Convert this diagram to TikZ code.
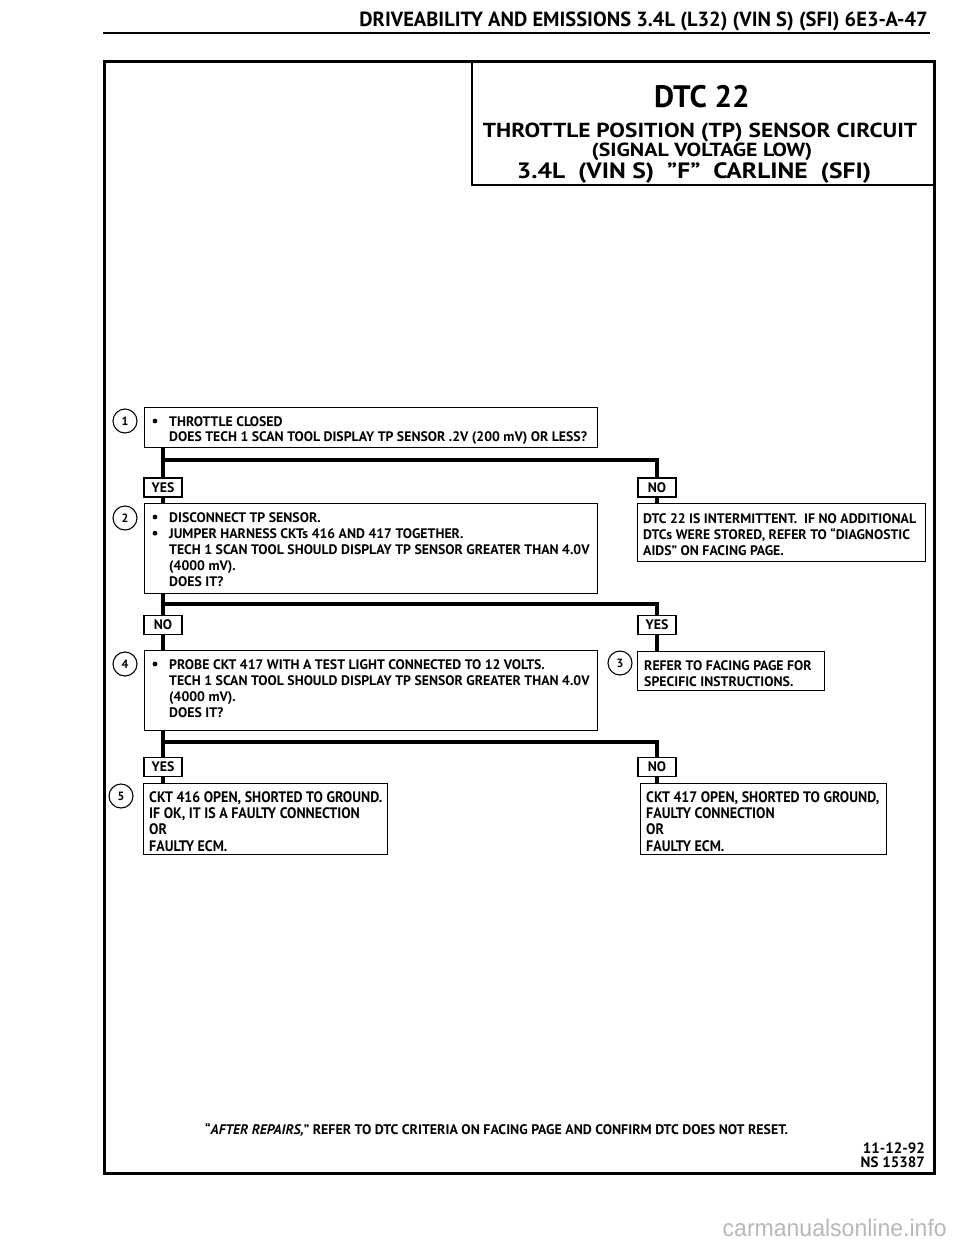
\documentclass[tikz,border=0pt]{standalone}
\usepackage{fontspec}
\setmainfont{PT Sans}
\newfontfamily\condf[FakeStretch=0.92]{PT Sans}
\newfontfamily\widef[FakeStretch=1.15]{PT Sans}
\newfontfamily\wmf[FakeStretch=0.96]{Liberation Sans}
\newcommand\fs{\rule{0pt}{10pt}}
\newcommand\bodytext{\fontsize{13.8}{16.2}\selectfont\bfseries}
\newcommand\condtext{\condf\fontsize{15.2}{16.3}\selectfont\bfseries}
\begin{document}
\begin{tikzpicture}[x=1pt,y=-1pt,
  box/.style={draw, line width=1.3pt, inner sep=0pt, anchor=north west},
  txt/.style={inner sep=0pt, anchor=north west, align=left, font=\bodytext},
  ctxt/.style={inner sep=0pt, anchor=north west, align=left, font=\condtext},
  lbl/.style={draw, line width=1.3pt, inner sep=0pt, minimum width=38pt, minimum height=19pt, font=\bodytext},
  circ/.style={draw, circle, line width=1.1pt, inner sep=0pt, minimum size=24pt, font=\fontsize{12}{12}\selectfont\bfseries},
  conn/.style={line width=4pt},
  bul/.style={fill=black}]
\useasboundingbox (0,0) rectangle (960,1250);
% header
\node[anchor=base east, inner sep=0pt, font=\fontsize{20.5}{20.5}\selectfont\bfseries] (hdr) at (928,27) {DRIVEABILITY AND EMISSIONS 3.4L (L32) (VIN S) (SFI) 6E3-A-47};
\draw[line width=2pt] (103,33) -- (930,33);
% frame
\node[draw, line width=2.5pt, inner sep=0pt, minimum width=830pt, minimum height=1112pt, anchor=north west] (frame) at (103,60) {};
% title
\node[draw, line width=1.5pt, inner sep=0pt, minimum width=462pt, minimum height=124pt, anchor=north west] (tb) at (471,60) {};
\node[anchor=base, inner sep=0pt, font=\fontsize{31}{31}\selectfont\bfseries] (dtc) at (702,107) {DTC 22};
\node[anchor=base, inner sep=0pt, font=\widef\fontsize{20.3}{20.3}\selectfont\bfseries] (tt1) at (700,137) {THROTTLE POSITION (TP) SENSOR CIRCUIT};
\node[anchor=base, inner sep=0pt, font=\widef\fontsize{19}{19}\selectfont\bfseries] (tt2) at (702,156.5) {(SIGNAL VOLTAGE LOW)};
\node[anchor=base, inner sep=0pt, font=\widef\fontsize{22.2}{22.2}\selectfont\bfseries] (tt3) at (694,178.5) {3.4L\ \ (VIN S)\ \ ”F”\ \ CARLINE\ \ (SFI)};
% step 1
\node[circ] (c1) at (125,421) {1};
\node[box, minimum width=453pt, minimum height=40pt] (b1) at (144,407) {};
\fill[bul] (155,421) circle (2.4pt);
\node[txt, font=\fontsize{13.8}{15}\selectfont\bfseries] (t1) at (169,415.85) {\fs THROTTLE CLOSED\\DOES TECH 1 SCAN TOOL DISPLAY TP SENSOR .2V (200 mV) OR LESS?};
\node[lbl] (y1) at (163,487.5) {YES};
\node[lbl] (n1) at (657,487.5) {NO};
% step 2
\node[circ] (c2) at (125,518) {2};
\node[box, minimum width=453pt, minimum height=90pt] (b2) at (144,503) {};
\fill[bul] (155,517) circle (2.4pt);
\fill[bul] (155,533.2) circle (2.4pt);
\node[txt] (t2) at (169,511.85) {\fs DISCONNECT TP SENSOR.\\JUMPER HARNESS CKTs 416 AND 417 TOGETHER.\\TECH 1 SCAN TOOL SHOULD DISPLAY TP SENSOR GREATER THAN 4.0V\\(4000 mV).\\DOES IT?};
\node[box, minimum width=288pt, minimum height=58pt] (r1) at (637,503) {};
\node[txt] (tr1) at (643,512.85) {\fs DTC 22 IS INTERMITTENT.\ \ IF NO ADDITIONAL\\DTCs WERE STORED, REFER TO “DIAGNOSTIC\\AIDS” ON FACING PAGE.};
\node[lbl] (n2) at (163,625) {NO};
\node[lbl] (y2) at (657,625) {YES};
% step 4
\node[circ] (c4) at (125,664) {4};
\node[box, minimum width=453pt, minimum height=80pt] (b4) at (144,650) {};
\fill[bul] (155,664) circle (2.4pt);
\node[txt] (t4) at (169,658.85) {\fs PROBE CKT 417 WITH A TEST LIGHT CONNECTED TO 12 VOLTS.\\TECH 1 SCAN TOOL SHOULD DISPLAY TP SENSOR GREATER THAN 4.0V\\(4000 mV).\\DOES IT?};
% step 3
\node[circ] (c3) at (620,663) {3};
\node[box, minimum width=187pt, minimum height=39pt] (b3) at (637,651) {};
\node[txt] (t3) at (644,659.85) {\fs REFER TO FACING PAGE FOR\\SPECIFIC INSTRUCTIONS.};
\node[lbl] (y3) at (163,767) {YES};
\node[lbl] (n3) at (657,767) {NO};
% step 5
\node[circ] (c5) at (121,796) {5};
\node[box, minimum width=244pt, minimum height=71pt] (b5) at (143,783) {};
\node[ctxt] (t5) at (149,791.3) {\fs CKT 416 OPEN, SHORTED TO GROUND.\\IF OK, IT IS A FAULTY CONNECTION\\OR\\FAULTY ECM.};
\node[box, minimum width=246pt, minimum height=71pt] (b6) at (640,783) {};
\node[ctxt] (t6) at (646,791.3) {\fs CKT 417 OPEN, SHORTED TO GROUND,\\FAULTY CONNECTION\\OR\\FAULTY ECM.};
% connectors
\coordinate (j1) at (163,460);
\coordinate (j2) at (163,604);
\coordinate (j3) at (163,742);
\draw[conn] (b1.south -| y1) -- (y1.north);
\draw[conn] (j1) -| (n1.north);
\draw[conn] (y1.south) -- (y1.south |- b2.north);
\draw[conn] (n1.south) -- (n1.south |- r1.north);
\draw[conn] (b2.south -| n2) -- (n2.north);
\draw[conn] (j2) -| (y2.north);
\draw[conn] (n2.south) -- (n2.south |- b4.north);
\draw[conn] (y2.south) -- (y2.south |- b3.north);
\draw[conn] (b4.south -| y3) -- (y3.north);
\draw[conn] (j3) -| (n3.north);
\draw[conn] (y3.south) -- (y3.south |- b5.north);
\draw[conn] (n3.south) -- (n3.south |- b6.north);
% footer
\node[anchor=base west, inner sep=0pt, font=\fontsize{13.9}{13.9}\selectfont\bfseries] (foot) at (205,1134) {“\textit{AFTER REPAIRS,}” REFER TO DTC CRITERIA ON FACING PAGE AND CONFIRM DTC DOES NOT RESET.};
\node[anchor=base east, inner sep=0pt, font=\fontsize{15}{15}\selectfont\bfseries] (date) at (925,1153) {11-12-92};
\node[anchor=base east, inner sep=0pt, font=\fontsize{15}{15}\selectfont\bfseries] (ns) at (925,1167) {NS 15387};
\node[anchor=base east, inner sep=0pt, text=black!28, font=\wmf\fontsize{24}{24}\selectfont] (wm) at (947,1236) {carmanualsonline.info};
\end{tikzpicture}
\end{document}
